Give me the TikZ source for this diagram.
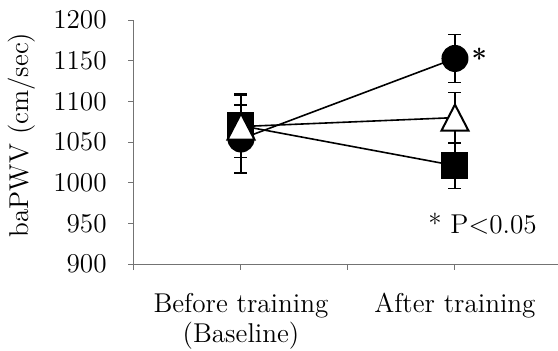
\documentclass[tikz,border=0pt]{standalone}
\usepackage{fontspec}
\usepackage{tikz}
\usetikzlibrary{positioning}

\begin{document}
\begin{tikzpicture}[
	font=\fontsize{13.6}{15}\selectfont,
	axisline/.style={black!55, line width=0.5pt},
	dataline/.style={line width=0.8pt},
	errbar/.style={line width=0.8pt},
	circmark/.style={circle, fill=black, inner sep=0pt, minimum size=13.5pt},
	sqmark/.style={rectangle, fill=black, inner sep=0pt, minimum size=13.5pt},
	trimark/.pic={\filldraw[fill=white, draw=black, line width=1pt] (-6.75pt,-6.5pt) -- (6.75pt,-6.5pt) -- (0pt,6.5pt) -- cycle;}
]

% y values are shifted by 900 so the axis starts at the origin
\def \xw{212pt}
\def \xh{122pt}

\def \xxmax{3.963}
\def \xymin{900}
\def \xyrange{300}

\newcommand{\xx}[1]{#1 / \xxmax * \xw}
\newcommand{\xy}[1]{#1 / \xyrange * \xh - \xymin / \xyrange * \xh}

\useasboundingbox (-67pt, -43pt) rectangle (\xw, 132pt);

\foreach \y in {900, 950, 1000, 1050, 1100, 1150, 1200} {
	\draw[axisline] (0pt, \xy{\y}) -- (-3pt, \xy{\y}); % y tick
	\node[anchor=east, inner sep=0pt] (ytick\y) at (-13.5pt, \xy{\y}) {\y}; % y label
}

\foreach \x in {1, 2, 3} {
	\draw[axisline] (\xx{\x}, 0pt) -- (\xx{\x}, -3pt); % x tick
}

\draw[axisline] (0, -3pt) -- (0, \xh); % y axis
\draw[axisline] (0, 0) -- (\xw, 0); % x axis

\node[anchor=north, align=center, inner sep=0pt] (before) at (\xx{1}, -14.5pt) {Before training\\(Baseline)};
\node[anchor=north, inner sep=0pt] (after) at (\xx{3}, -14.5pt) {After training};
\node[rotate=90] (ylabel) at (-56.25pt, 64.5pt) {baPWV (cm/sec)};

% group means
\coordinate (befc) at (\xx{1}, \xy{1053.7});
\coordinate (befs) at (\xx{1}, \xy{1070});
\coordinate (beft) at (\xx{1}, \xy{1069});
\coordinate (aftc) at (\xx{3}, \xy{1152.7});
\coordinate (afts) at (\xx{3}, \xy{1021});
\coordinate (aftt) at (\xx{3}, \xy{1080});

\draw[dataline] (befc) -- (aftc);
\draw[dataline] (befs) -- (afts);
\draw[dataline] (beft) -- (aftt);

% error bars (mean +- sd)
\foreach \cx/\v/\e in {1/1053.7/42, 1/1070/39, 1/1069/38, 3/1152.7/29.5, 3/1080/31, 3/1021/28} {
	\pgfmathsetmacro{\lo}{\v - \e}
	\pgfmathsetmacro{\hi}{\v + \e}
	\draw[errbar] (\xx{\cx}, \xy{\lo}) -- (\xx{\cx}, \xy{\hi});
	\draw[errbar] (\xx{\cx}, \xy{\hi}) ++(-3.25pt, 0) -- ++(6.5pt, 0);
	\draw[errbar] (\xx{\cx}, \xy{\lo}) ++(-3.25pt, 0) -- ++(6.5pt, 0);
}

\node[circmark] (befcm) at (befc) {};
\node[sqmark]   (befsm) at (befs) {};
\pic at (beft) {trimark};
\node[circmark] (aftcm) at (aftc) {};
\node[sqmark]   (aftsm) at (afts) {};
\pic at (aftt) {trimark};

\node[anchor=base west, inner sep=0pt] (sig) at ([xshift=1.2pt, yshift=-5pt]aftcm.east) {\textbf{*}};
\node[anchor=base, inner sep=0pt] (pval) at (174.25pt, 15.5pt) {* P<0.05};

\end{tikzpicture}
\end{document}
